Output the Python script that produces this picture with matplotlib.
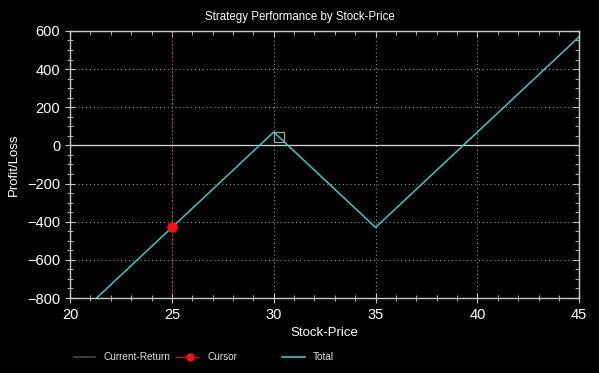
import numpy as np
import matplotlib.pyplot as plt
from matplotlib.ticker import MultipleLocator
from matplotlib.lines import Line2D

plt.rcParams['font.family'] = ['Liberation Sans', 'DejaVu Sans']

# payoff da estrategia
precos = [20, 30, 35, 45]
total = [-930, 70, -430, 570]
cursor_x = 25
cursor_y = -430
marca_x = 30.25
marca_y = 45
legendas = ['Current-Return', 'Cursor', 'Total']

fig = plt.figure(figsize=(5.99, 3.73), dpi=100)
fig.patch.set_facecolor('black')
ax = fig.add_axes([0.117, 0.201, 0.85, 0.716])
ax.set_facecolor('black')

ax.plot(precos, total, color='#3cc8c8', linewidth=1.1, zorder=3)
ax.plot([marca_x], [marca_y], marker='s', markersize=7, markerfacecolor='none',
        markeredgecolor='#8fb0a8', markeredgewidth=0.9, zorder=4)
ax.axhline(0, color='#d8d8d8', linewidth=0.9, zorder=2)
ax.axvline(cursor_x, color='#c03030', linestyle=(0, (1, 2)), linewidth=0.8, zorder=2)
ax.plot([cursor_x], [cursor_y], 'o', color='#ff1010', markersize=6.5, zorder=5)

ax.set_xlim(20, 45)
ax.set_ylim(-800, 600)
ax.xaxis.set_major_locator(MultipleLocator(5))
ax.xaxis.set_minor_locator(MultipleLocator(1))
ax.yaxis.set_major_locator(MultipleLocator(200))
ax.yaxis.set_minor_locator(MultipleLocator(50))
ax.grid(True, which='major', color='#909090', linestyle=(0, (1, 2.5)), linewidth=0.8)

for s in ax.spines.values():
    s.set_color('#c8c8c8')
    s.set_linewidth(1.0)
ax.tick_params(which='both', direction='inout', colors='#c8c8c8',
               labelcolor='white', labelsize=10.5)
ax.tick_params(which='major', length=7)
ax.tick_params(which='minor', length=5)

# ticks de cima e da direita so para dentro
topo = ax.secondary_xaxis('top')
topo.xaxis.set_major_locator(MultipleLocator(5))
topo.xaxis.set_minor_locator(MultipleLocator(1))
topo.tick_params(which='both', direction='in', colors='#c8c8c8', labeltop=False)
topo.tick_params(which='major', length=4)
topo.tick_params(which='minor', length=3)
topo.spines['top'].set_color('#c8c8c8')
dir_ax = ax.secondary_yaxis('right')
dir_ax.yaxis.set_major_locator(MultipleLocator(200))
dir_ax.yaxis.set_minor_locator(MultipleLocator(50))
dir_ax.tick_params(which='both', direction='in', colors='#c8c8c8', labelright=False)
dir_ax.tick_params(which='major', length=4)
dir_ax.tick_params(which='minor', length=3)
dir_ax.spines['right'].set_color('#c8c8c8')

fig.suptitle('Strategy Performance by Stock-Price', color='white', fontsize=8.3,
             x=0.5, y=1 - 17 / 373., va='center')
ax.set_xlabel('Stock-Price', color='white', fontsize=9.5, labelpad=4)
ax.set_ylabel('Profit/Loss', color='white', fontsize=9.5, labelpad=5)

# legenda desenhada a mao, embaixo
W, H = 599., 373.
yl = 1 - 357 / H
fig.add_artist(Line2D([74 / W, 95 / W], [yl, yl], color='#484848', linewidth=1.2))
fig.text(103 / W, yl, legendas[0], color='#e0e0e0', fontsize=7.2, va='center')
fig.add_artist(Line2D([176 / W, 198 / W], [yl, yl], color='#c01010', linewidth=1.0))
fig.add_artist(Line2D([190 / W], [yl], marker='o', markersize=5,
                      color='#ff1010', linestyle='none'))
fig.text(208 / W, yl, legendas[1], color='#e0e0e0', fontsize=7.2, va='center')
fig.add_artist(Line2D([282 / W, 305 / W], [yl, yl], color='#3cc8c8', linewidth=1.2))
fig.text(313 / W, yl, legendas[2], color='#e0e0e0', fontsize=7.2, va='center')

plt.savefig('out.png', dpi=100, facecolor='black')
